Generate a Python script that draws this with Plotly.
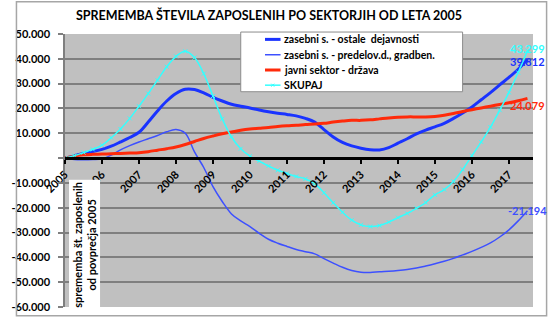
import plotly.graph_objects as go

# ---- data (thousands of employees, change vs. 2005 average) ----
quarters = [2005.0, 2005.25, 2005.5, 2005.75, 2006.0, 2006.25, 2006.5, 2006.75,
            2007.0, 2007.25, 2007.5, 2007.75, 2008.0, 2008.25, 2008.5, 2008.75,
            2009.0, 2009.25, 2009.5, 2009.75, 2010.0, 2010.25, 2010.5, 2010.75,
            2011.0, 2011.25, 2011.5, 2011.75, 2012.0, 2012.25, 2012.5, 2012.75,
            2013.0, 2013.25, 2013.5, 2013.75, 2014.0, 2014.25, 2014.5, 2014.75,
            2015.0, 2015.25, 2015.5, 2015.75, 2016.0, 2016.25, 2016.5, 2016.75,
            2017.0, 2017.25, 2017.5]

zasebni_ostale = [0, 0.9, 1.9, 2.6, 3.5, 4.8, 6.5, 8.3,
                  10.4, 14.5, 19.0, 23.0, 26.0, 27.7, 27.6, 26.3,
                  24.5, 23.0, 21.7, 20.9, 20.2, 19.4, 18.7, 18.1,
                  17.6, 17.0, 16.0, 14.5, 11.5, 8.5, 6.3, 4.9,
                  4.0, 3.4, 3.3, 4.2, 6.0, 7.8, 9.8, 11.3,
                  12.6, 14.0, 16.0, 18.2, 20.6, 23.5, 26.4, 29.5,
                  32.5, 35.8, 39.812]

zasebni_predelov = [0, -0.6, -0.7, -0.6, -0.3, 1.2, 3.3, 5.0,
                    6.5, 7.8, 9.1, 10.6, 11.5, 10.0, 2.5, -3.8,
                    -11.5, -17.5, -22.5, -25.3, -27.6, -30.3, -32.7, -34.3,
                    -35.6, -36.8, -37.7, -38.6, -40.5, -42.3, -44.0, -45.3,
                    -46.0, -46.1, -45.8, -45.6, -45.3, -44.9, -44.3, -43.5,
                    -42.6, -41.6, -40.4, -39.0, -37.6, -36.0, -34.2, -31.8,
                    -28.9, -25.3, -21.194]

javni_sektor = [0, 0.8, 1.3, 1.5, 1.6, 1.75, 1.9, 2.05,
                2.2, 2.6, 3.2, 3.8, 4.5, 5.5, 6.7, 7.9,
                8.9, 9.8, 10.5, 11.2, 11.7, 12.0, 12.3, 12.7,
                13.0, 13.2, 13.5, 13.7, 14.0, 14.5, 14.9, 15.2,
                15.2, 15.4, 15.8, 16.2, 16.5, 16.6, 16.6, 16.6,
                16.8, 17.3, 18.0, 18.8, 19.5, 20.2, 20.9, 21.6,
                22.3, 23.1, 24.079]

skupaj = [0, 1.0, 2.2, 3.5, 5.2, 8.2, 11.7, 16.0,
          20.9, 26.0, 31.4, 36.8, 41.0, 43.0, 40.5, 34.0,
          25.0, 15.8, 8.5, 3.8, 0.8, -1.2, -3.2, -4.9,
          -6.2, -7.4, -8.4, -10.3, -14.0, -18.0, -21.8, -25.0,
          -26.9, -27.6, -27.2, -25.8, -24.0, -22.3, -20.2, -17.9,
          -14.8, -12.7, -9.4, -4.6, 1.0, 6.5, 12.5, 19.3,
          26.5, 34.5, 43.299]

series_names = ["zasebni s. - ostale  dejavnosti",
                "zasebni s. - predelov.d., gradben.",
                "javni sektor - država",
                "SKUPAJ"]

year_ticks = list(range(2005, 2018))
year_labels = [str(y) for y in year_ticks]
y_ticks = [50, 40, 30, 20, 10, 0, -10, -20, -30, -40, -50, -60]
y_labels = ["50.000", "40.000", "30.000", "20.000", "10.000", "",
            "-10.000", "-20.000", "-30.000", "-40.000", "-50.000", "-60.000"]

title_text = "SPREMEMBA ŠTEVILA ZAPOSLENIH PO SEKTORJIH OD LETA 2005"
ytitle_text = "sprememba št. zaposlenih<br>od povprečja 2005"

# ---- styling ----
FONT = "Lato"
W, H = 549, 324
L, R, T, B = 51, 16, 34, 11
PW, PH = W - L - R, H - T - B

def px_x(p):
    return (p - L) / PW

def px_y(p):
    return (H - B - p) / PH

c_ostale = "#1a33ff"
c_pred = "#3d50ff"
c_javni = "#ff2a0a"
c_skup = "#33ffff"
colors = [c_ostale, c_pred, c_javni, c_skup]
widths = [3, 1.5, 3, 1.5]

fig = go.Figure()
series = [zasebni_ostale, zasebni_predelov, javni_sektor, skupaj]
for i, vals in enumerate(series):
    kw = dict(x=quarters, y=vals, name=series_names[i], showlegend=False,
              line=dict(color=colors[i], width=widths[i], shape="spline"))
    if i == 3:
        kw["mode"] = "lines+markers"
        kw["marker"] = dict(symbol="x-thin-open", size=4, line=dict(color=c_skup, width=1))
    else:
        kw["mode"] = "lines"
    fig.add_trace(go.Scatter(**kw))

# end-value labels
label_specs = [(skupaj, c_skup, 2), (zasebni_ostale, c_ostale, -2),
               (javni_sektor, c_javni, -7), (zasebni_predelov, c_pred, 0)]
for vals, col, ys in label_specs:
    fig.add_annotation(x=quarters[-1], y=vals[-1], text=f"{vals[-1]:.3f}", showarrow=False,
                       xanchor="center", yanchor="middle", yshift=ys,
                       font=dict(family=FONT, size=11, color=col, weight="bold"))

# y-axis title inside the plot on a white box
fig.add_annotation(xref="paper", yref="paper", x=px_x(71), y=px_y(249), text=ytitle_text,
                   textangle=-90, showarrow=False, align="center",
                   xanchor="center", yanchor="middle",
                   bgcolor="white", borderpad=2, borderwidth=0,
                   font=dict(family=FONT, size=11, color="black", weight="bold"))

# legend box (drawn manually to match row spacing)
fig.add_shape(type="rect", xref="paper", yref="paper",
              x0=px_x(232), x1=px_x(460.5), y0=px_y(93), y1=px_y(32),
              fillcolor="white", line=dict(color="#8c8c8c", width=1), layer="above")
rows = [39.5, 55.2, 70.8, 86.3]
for i, name in enumerate(series_names):
    ry = px_y(rows[i])
    fig.add_shape(type="line", xref="paper", yref="paper",
                  x0=px_x(257), x1=px_x(273), y0=ry, y1=ry,
                  line=dict(color=colors[i], width=widths[i]), layer="above")
    fig.add_annotation(xref="paper", yref="paper", x=px_x(274), y=ry, text=name,
                       showarrow=False, xanchor="left", yanchor="middle",
                       font=dict(family=FONT, size=10.5, color="black", weight="bold"))
# x marker on SKUPAJ legend sample
for dy in (-1, 1):
    fig.add_shape(type="line", xref="paper", yref="paper",
                  x0=px_x(263.5), x1=px_x(266.5), y0=px_y(rows[3] - 1.5 * dy), y1=px_y(rows[3] + 1.5 * dy),
                  line=dict(color=c_skup, width=1), layer="above")

# outer frame
fig.add_shape(type="rect", xref="paper", yref="paper",
              x0=px_x(1), x1=px_x(547), y0=px_y(322), y1=px_y(1),
              fillcolor="rgba(0,0,0,0)", line=dict(color="#a6a6a6", width=1.5))

fig.update_layout(
    width=W, height=H,
    margin=dict(l=L, r=R, t=T, b=B),
    paper_bgcolor="white", plot_bgcolor="#c0c0c0",
    font=dict(family=FONT, color="black"),
    title=dict(text=title_text, xref="container", x=269 / W, xanchor="center",
               yref="container", y=1 - 16 / H, yanchor="middle",
               font=dict(family=FONT, size=12.5, color="black", weight="bold")),
    showlegend=False,
    xaxis=dict(range=[2005, 2017.65], tickmode="array", tickvals=year_ticks, ticktext=year_labels,
               tickangle=-45, showgrid=False, zeroline=False,
               showline=True, linecolor="black", linewidth=2.5,
               ticks="outside", ticklen=4, tickwidth=2, tickcolor="black",
               anchor="free", position=60 / 110,
               tickfont=dict(family=FONT, size=11, color="black", weight="bold")),
    yaxis=dict(range=[-60, 50], tickmode="array", tickvals=y_ticks, ticktext=y_labels,
               showgrid=True, gridcolor="#7f7f7f", gridwidth=1.5, zeroline=False,
               showline=True, linecolor="#7f7f7f", linewidth=1.5,
               ticks="outside", ticklen=5, tickcolor="#7f7f7f", tickwidth=1.5,
               ticklabelstandoff=6,
               tickfont=dict(family=FONT, size=11, color="black", weight="bold")),
)

fig.write_html("out.html")
